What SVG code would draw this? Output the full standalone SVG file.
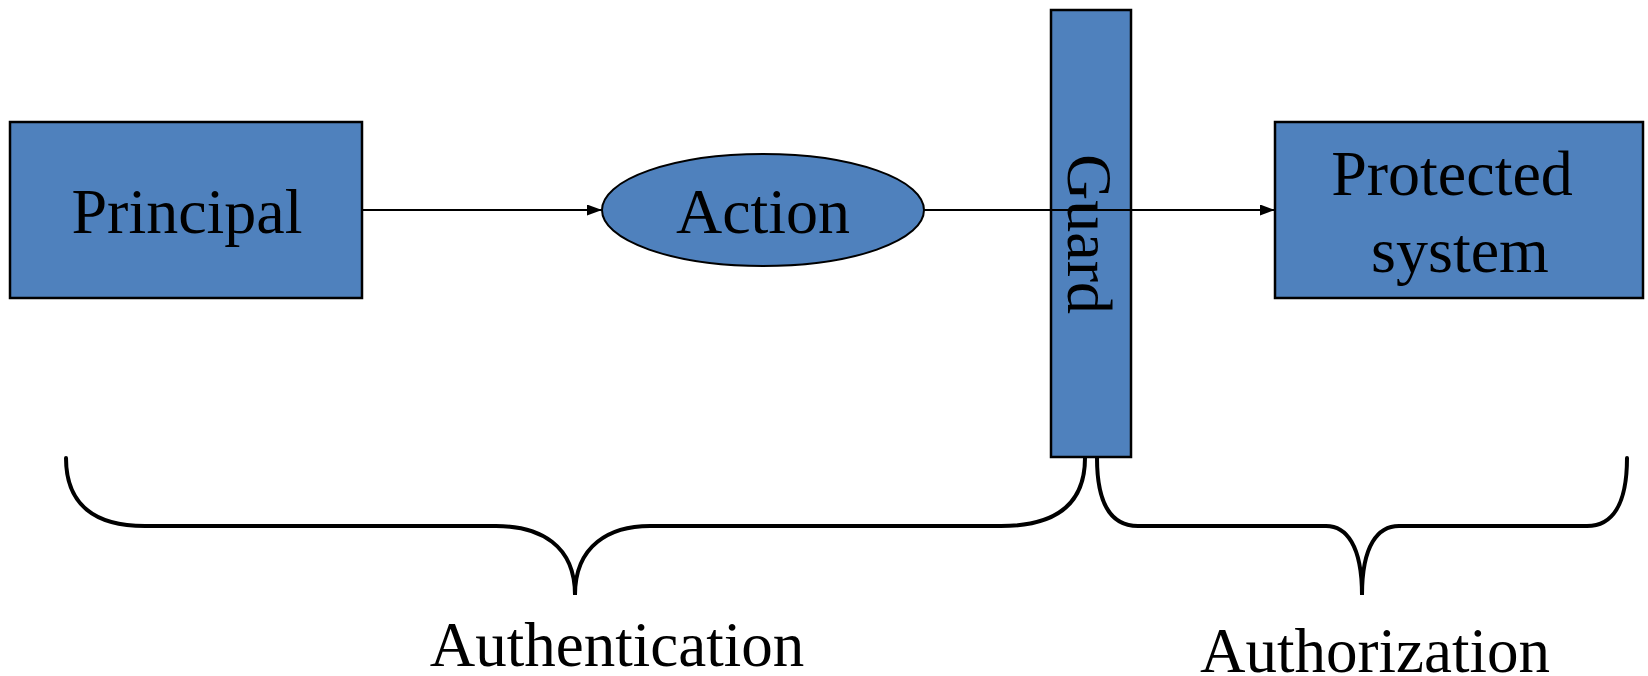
<svg xmlns="http://www.w3.org/2000/svg" width="1648" height="676" viewBox="0 0 1648 676">
<style>
.box{fill:#4F81BD;stroke:#000;stroke-width:2.5}
.lbl{font-family:"Liberation Serif","Times New Roman",serif;font-size:64px;fill:#000;text-anchor:middle}
.conn{stroke:#000;stroke-width:2;fill:none}
.brace{stroke:#000;stroke-width:4;fill:none;stroke-linecap:round}
</style>
<defs>
<marker id="arr" viewBox="0 0 15 11" refX="15" refY="5.5" markerWidth="15" markerHeight="11" markerUnits="userSpaceOnUse" orient="auto">
<path d="M0,0 L15,5.5 L0,11 z" fill="#000"/>
</marker>
</defs>
<rect width="1648" height="676" fill="#fff"/>
<g id="principal">
<rect class="box" x="10" y="122" width="352" height="176"/>
<text class="lbl" x="187" y="233">Principal</text>
</g>
<g id="action">
<ellipse class="box" cx="763" cy="210" rx="161" ry="56" style="stroke-width:2"/>
<text class="lbl" x="763" y="233">Action</text>
</g>
<g id="guard">
<rect class="box" x="1051" y="10" width="80" height="447"/>
<text class="lbl" transform="translate(1068,234) rotate(90)">Guard</text>
</g>
<g id="protected">
<rect class="box" x="1275" y="122" width="368" height="176"/>
<text class="lbl" x="1452" y="195">Protected</text>
<text class="lbl" x="1460" y="272">system</text>
</g>
<g id="connectors">
<line class="conn" x1="362" y1="210" x2="602" y2="210" marker-end="url(#arr)"/>
<line class="conn" x1="924" y1="210" x2="1275" y2="210" marker-end="url(#arr)"/>
</g>
<g id="authentication">
<path class="brace" d="M66,458 C66,505 95,526 145,526 H496 C540,526 575,545 575,595 C575,545 610,526 650,526 H1001 C1055,526 1085,505 1085,458"/>
<text class="lbl" x="617" y="666" style="font-size:63px">Authentication</text>
</g>
<g id="authorization">
<path class="brace" d="M1097,458 C1097,505 1112,526 1138,526 H1326 C1346,526 1362,545 1362,595 C1362,545 1378,526 1399,526 H1587 C1612,526 1627,505 1627,458"/>
<text class="lbl" x="1375" y="672" style="font-size:63px">Authorization</text>
</g>
</svg>
